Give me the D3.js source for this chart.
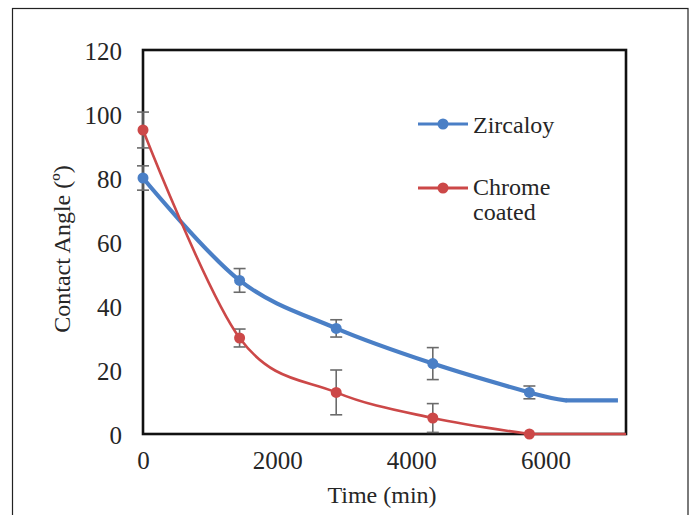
<!DOCTYPE html>
<html>
<head>
<meta charset="utf-8">
<script src="https://cdn.jsdelivr.net/npm/d3@7"></script>
<style>
  html, body { margin: 0; padding: 0; background: #fff; }
  svg { display: block; }
</style>
</head>
<body>
<svg id="chart" width="694" height="515"></svg>
<script>
// Contact angle vs. time, mean values with standard deviation
const timeMin      = [0, 1440, 2880, 4320, 5760];
const zircaloy     = [80, 48, 33, 22, 13];
const zircaloyErr  = [3.8, 3.7, 2.7, 5.0, 2.0];
const chrome       = [95, 30, 13, 5, 0];
const chromeErr    = [5.6, 2.8, 7.0, 4.5, 0];
// Plateau reached after the last measurement (drawn as line only)
const zircaloyTailT = [6300, 7080];
const zircaloyTailV = [10.5, 10.5];
const chromeTailT   = [7200];
const chromeTailV   = [0];

const xTicks = [0, 2000, 4000, 6000];
const yTicks = [0, 20, 40, 60, 80, 100, 120];
const seriesNames = ["Zircaloy", "Chrome coated"];

const FONT = '"Liberation Serif", "Times New Roman", "DejaVu Serif", serif';
const TEXT = "#262626";

const svg = d3.select("#chart");
const plot = { left: 143, top: 50, right: 626, bottom: 434 };

const x = d3.scaleLinear().domain([0, 7200]).range([plot.left, plot.right]);
const y = d3.scaleLinear().domain([0, 120]).range([plot.bottom, plot.top]);

const BLUE = "#4a7fc6", RED = "#cc4848", ERR = "#6b6b6b";

// outer frame
svg.append("rect")
  .attr("x", 12.5).attr("y", 8.5).attr("width", 675.5).attr("height", 520)
  .attr("fill", "none").attr("stroke", "#222").attr("stroke-width", 1.2);

// plot-area frame
svg.append("rect")
  .attr("x", plot.left).attr("y", plot.top)
  .attr("width", plot.right - plot.left).attr("height", plot.bottom - plot.top)
  .attr("fill", "none").attr("stroke", "#111").attr("stroke-width", 2.6);

// axes (labels only; the frame forms the axis lines)
const xAxis = svg.append("g")
  .attr("transform", `translate(0,${plot.bottom})`)
  .call(d3.axisBottom(x).tickValues(xTicks).tickSize(0).tickPadding(0).tickFormat(d3.format("d")));
xAxis.select(".domain").remove();
xAxis.attr("font-family", null).attr("font-size", null);
xAxis.selectAll("text").attr("dy", null).attr("y", 35).style("font-size", "25px");

const yAxis = svg.append("g")
  .attr("transform", `translate(${plot.left},0)`)
  .call(d3.axisLeft(y).tickValues(yTicks).tickSize(0).tickPadding(0).tickFormat(d3.format("d")));
yAxis.select(".domain").remove();
yAxis.attr("font-family", null).attr("font-size", null);
yAxis.selectAll("text").attr("dy", null).attr("x", -21).attr("y", 9).style("font-size", "25px");

// axis titles
svg.append("text")
  .attr("x", 382).attr("y", 503).attr("text-anchor", "middle")
  .style("font-size", "24px").text("Time (min)");
svg.append("text")
  .attr("transform", "translate(70,249) rotate(-90)").attr("text-anchor", "middle")
  .style("font-size", "24px").text("Contact Angle (º)");

const series = [
  { t: timeMin, v: zircaloy, e: zircaloyErr, tailT: zircaloyTailT, tailV: zircaloyTailV, color: BLUE, width: 4.2 },
  { t: timeMin, v: chrome,   e: chromeErr,   tailT: chromeTailT,   tailV: chromeTailV,   color: RED,  width: 2.6 }
];

const smooth = d3.line().x(d => x(d[0])).y(d => y(d[1])).curve(d3.curveCardinal.tension(0));
const straight = d3.line().x(d => x(d[0])).y(d => y(d[1]));

// error bars
const capW = 6;
series.forEach(s => {
  const g = svg.append("g").attr("stroke", ERR).attr("stroke-width", 1.6).attr("fill", "none");
  s.t.forEach((t, i) => {
    if (!s.e[i]) return;
    const cx = x(t), y1 = y(s.v[i] + s.e[i]), y2 = y(Math.max(0, s.v[i] - s.e[i]));
    g.append("line").attr("x1", cx).attr("x2", cx).attr("y1", y1).attr("y2", y2);
    g.append("line").attr("x1", cx - capW).attr("x2", cx + capW).attr("y1", y1).attr("y2", y1);
    g.append("line").attr("x1", cx - capW).attr("x2", cx + capW).attr("y1", y2).attr("y2", y2);
  });
});

// smoothed lines through the measurements, then the flat plateau
series.forEach(s => {
  const measured = s.t.map((t, i) => [t, s.v[i]]);
  const tail = s.tailT.map((t, i) => [t, s.tailV[i]]);
  const smoothPts = s.tailT.length > 1 ? measured.concat([tail[0]]) : measured;
  const flatPts = [smoothPts[smoothPts.length - 1]].concat(s.tailT.length > 1 ? tail.slice(1) : tail);
  const g = svg.append("g").attr("fill", "none").attr("stroke", s.color)
    .attr("stroke-width", s.width).attr("stroke-linejoin", "round").attr("stroke-linecap", "round");
  g.append("path").attr("d", smooth(smoothPts));
  g.append("path").attr("d", straight(flatPts)).attr("stroke-linecap", "butt");
});

// markers
series.forEach(s => {
  svg.append("g").selectAll("circle")
    .data(s.t.map((t, i) => [t, s.v[i]]))
    .join("circle")
    .attr("cx", d => x(d[0])).attr("cy", d => y(d[1])).attr("r", 5.5)
    .attr("fill", s.color);
});

// legend
const legend = svg.append("g");
const legendRows = [
  { name: seriesNames[0], color: BLUE, ly: 124, lines: [{ t: "Zircaloy", y: 133 }] },
  { name: seriesNames[1], color: RED,  ly: 188, lines: [{ t: "Chrome", y: 195 }, { t: "coated", y: 220 }] }
];
legendRows.forEach(r => {
  legend.append("line").attr("x1", 418).attr("x2", 468).attr("y1", r.ly).attr("y2", r.ly)
    .attr("stroke", r.color).attr("stroke-width", 3);
  legend.append("circle").attr("cx", 443).attr("cy", r.ly).attr("r", 5.5).attr("fill", r.color);
  r.lines.forEach(l => {
    legend.append("text").attr("x", 473).attr("y", l.y)
      .style("font-size", "24px").text(l.t);
  });
});

// shared text styling
svg.selectAll("text").style("font-family", FONT).attr("fill", TEXT);
</script>
</body>
</html>
